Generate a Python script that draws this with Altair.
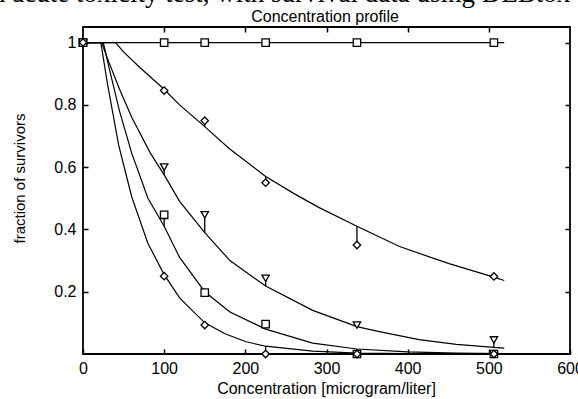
import altair as alt
import pandas as pd

# ---- observed data (concentration in microgram/liter, fraction of survivors) ----
conc = [0, 100, 150, 225, 337.5, 506.25]
series_names = ["control", "s1", "s2", "s3", "s4"]
marker_shapes = ["square", "diamond", "triangle-down", "square", "diamond"]
obs_control = [1, 1, 1, 1, 1, 1]
obs_s1 = [1, 0.846, 0.749, 0.55, 0.35, 0.249]
obs_s2 = [1, 0.60, 0.447, 0.243, 0.093, 0.045]
obs_s3 = [1, 0.447, 0.197, 0.096, 0.0, 0.0]
obs_s4 = [1, 0.25, 0.093, 0.0, 0.0, 0.0]

# ---- fitted curves ----
fit_x_control = [0, 519]
fit_y_control = [1, 1]
fit_x_s1 = [0, 40, 50, 70, 100, 119, 150, 180, 225, 260, 291, 337.5, 390, 451, 506.25, 519]
fit_y_s1 = [1, 1, 0.97, 0.92, 0.85, 0.80, 0.73, 0.66, 0.57, 0.515, 0.47, 0.41, 0.345, 0.29, 0.247, 0.236]
fit_x_s2 = [0, 23, 30, 45, 60, 83, 100, 119, 150, 181, 225, 283, 337.5, 365, 414, 460, 506.25, 519]
fit_y_s2 = [1, 1, 0.95, 0.85, 0.76, 0.645, 0.575, 0.49, 0.39, 0.30, 0.218, 0.14, 0.088, 0.072, 0.046, 0.031, 0.021, 0.019]
fit_x_s3 = [0, 25, 32, 45, 60, 80, 100, 119, 150, 181, 225, 283, 337.5, 400, 460, 519]
fit_y_s3 = [1, 1, 0.92, 0.78, 0.645, 0.50, 0.41, 0.31, 0.20, 0.135, 0.08, 0.035, 0.016, 0.007, 0.003, 0.001]
fit_x_s4 = [0, 22, 30, 44, 60, 80, 100, 119, 150, 175, 200, 225, 283, 337.5, 430]
fit_y_s4 = [1, 1, 0.87, 0.67, 0.505, 0.355, 0.255, 0.18, 0.10, 0.065, 0.04, 0.025, 0.009, 0.003, 0.0005]

title_text = "Concentration profile"
caption_text = "an acute toxicity test, with survival data using DEBtox"

obs_all = [obs_control, obs_s1, obs_s2, obs_s3, obs_s4]
fit_all = [(fit_x_control, fit_y_control), (fit_x_s1, fit_y_s1), (fit_x_s2, fit_y_s2),
           (fit_x_s3, fit_y_s3), (fit_x_s4, fit_y_s4)]

obs_rows, fit_rows, res_rows = [], [], []
for name, shape, obs, (fx, fy) in zip(series_names, marker_shapes, obs_all, fit_all):
    for c, v in zip(conc, obs):
        obs_rows.append({"series": name, "shape": shape, "conc": c, "surv": v})
        if c in fx and name != "control":
            res_rows.append({"series": name, "conc": c, "surv": v, "model": fy[fx.index(c)]})
    for i, (c, v) in enumerate(zip(fx, fy)):
        fit_rows.append({"series": name, "conc": c, "surv": v, "order": i})

obs_df = pd.DataFrame(obs_rows)
fit_df = pd.DataFrame(fit_rows)
res_df = pd.DataFrame(res_rows)

FONT = "Liberation Sans"
xscale = alt.Scale(domain=[0, 600], nice=False, zero=False)
yscale = alt.Scale(domain=[0, 1.05], nice=False, zero=False)

x_bottom = alt.Axis(orient="bottom", values=[0, 100, 200, 300, 400, 500, 600], offset=-5,
                    tickSize=5, domain=False, grid=False, labelPadding=6, labelFlush=False,
                    title="Concentration [microgram/liter]", titleX=243, titleY=44,
                    titleBaseline="alphabetic", titleFontSize=16)
y_left = alt.Axis(orient="left", values=[0.2, 0.4, 0.6, 0.8, 1.0], format="~g", offset=-5,
                  tickSize=5, domain=False, grid=False, labelPadding=7, labelFlush=False,
                  title="fraction of survivors", titleX=-69, titleY=151,
                  titleAngle=-90, titleAlign="center", titleBaseline="middle", titleFontSize=15)
x_top = alt.Axis(orient="top", values=[100, 200, 300, 400, 500], offset=-5, tickSize=5,
                 domain=False, grid=False, labels=False, title=None)
y_right = alt.Axis(orient="right", values=[0.2, 0.4, 0.6, 0.8, 1.0], offset=-5, tickSize=5,
                   domain=False, grid=False, labels=False, title=None)

lines = alt.Chart(fit_df).mark_line(color="black", strokeWidth=1.2).encode(
    x=alt.X("conc:Q", scale=xscale, axis=x_bottom),
    y=alt.Y("surv:Q", scale=yscale, axis=y_left),
    detail="series:N",
    order="order:Q",
)

resid = alt.Chart(res_df).mark_rule(color="black", strokeWidth=1.3).encode(
    x=alt.X("conc:Q", scale=xscale, axis=x_top),
    y=alt.Y("surv:Q", scale=yscale, axis=y_right),
    y2="model:Q",
)

points = alt.Chart(obs_df).mark_point(filled=True, fill="white", stroke="black",
                                      strokeWidth=1.3, size=55, opacity=1).encode(
    x=alt.X("conc:Q", scale=xscale, axis=None),
    y=alt.Y("surv:Q", scale=yscale, axis=None),
    shape=alt.Shape("shape:N", scale=None),
)

caption = alt.Chart(pd.DataFrame({"t": [caption_text]})).mark_text(
    font="Liberation Serif", fontSize=27, align="left", baseline="alphabetic", color="black",
    dx=-103, dy=-25
).encode(text="t:N", x=alt.value(0), y=alt.value(0))

title = alt.Chart(pd.DataFrame({"t": [title_text]})).mark_text(
    font=FONT, fontSize=16, align="center", baseline="alphabetic", color="black",
    dy=-5
).encode(text="t:N", x=alt.value(242), y=alt.value(0))

chart = alt.layer(lines, resid, points, caption, title).resolve_axis(
    x="independent", y="independent"
).properties(
    width=487, height=327,
    background="white",
    padding={"left": 83, "top": 27, "right": 8, "bottom": 45},
    autosize=alt.AutoSizeParams(type="none"),
).configure_view(stroke="black", strokeWidth=1.8).configure_axis(
    labelFont=FONT, labelFontSize=16, labelColor="black", titleFont=FONT,
    titleColor="black", titleFontWeight="normal", tickColor="black", tickWidth=1.5,
)

chart.save("out.html", embed_options={"renderer": "svg", "actions": False})
